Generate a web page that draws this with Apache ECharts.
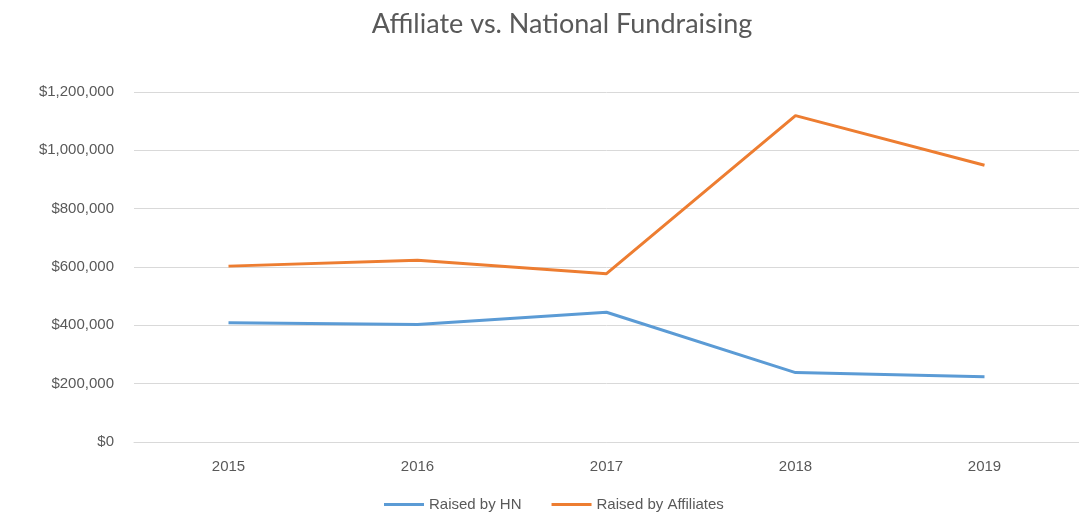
<!DOCTYPE html>
<html>
<head>
<meta charset="utf-8">
<script src="https://cdn.jsdelivr.net/npm/echarts@6/dist/echarts.min.js"></script>
<style>
  html, body { margin: 0; padding: 0; background: #fff; }
  #chart { width: 1079px; height: 514px; }
</style>
</head>
<body>
<div id="chart"></div>
<script>
// values
var years = ["2015", "2016", "2017", "2018", "2019"];
var raisedByHN = [409000, 403000, 445000, 238000, 224000];
var raisedByAffiliates = [603000, 623000, 577000, 1119000, 949000];
var seriesNames = ["Raised by HN", "Raised by Affiliates"];

var chart = echarts.init(document.getElementById("chart"));

function money(v) {
  return "$" + v.toString().replace(/\B(?=(\d{3})+(?!\d))/g, ",");
}

var option = {
  animation: false,
  title: {
    text: "Affiliate vs. National Fundraising",
    left: 557,
    top: 6,
    textAlign: "center",
    textStyle: {
      color: "#595959",
      fontFamily: "Lato",
      fontWeight: "normal",
      fontSize: 27
    }
  },
  legend: {
    top: 492,
    left: 379,
    itemWidth: 40,
    itemHeight: 3,
    itemGap: 30,
    icon: "rect",
    textStyle: {
      color: "#595959",
      fontFamily: "Liberation Sans",
      fontSize: 15
    },
    data: seriesNames
  },
  grid: {
    left: 134,
    right: 0,
    top: 92,
    bottom: 72,
    containLabel: false
  },
  xAxis: {
    type: "category",
    data: years,
    boundaryGap: true,
    axisLine: { show: true, lineStyle: { color: "#d9d9d9" } },
    axisTick: { show: false },
    axisLabel: {
      color: "#595959",
      fontFamily: "Liberation Sans",
      fontSize: 15,
      margin: 17
    }
  },
  yAxis: {
    type: "value",
    min: 0,
    max: 1200000,
    interval: 200000,
    axisLine: { show: false },
    axisTick: { show: false },
    splitLine: { lineStyle: { color: "#d9d9d9", width: 1 } },
    axisLabel: {
      color: "#595959",
      fontFamily: "Liberation Sans",
      fontSize: 15,
      margin: 20,
      formatter: money
    }
  },
  series: [
    {
      name: seriesNames[0],
      type: "line",
      data: raisedByHN,
      symbol: "none",
      color: "#5b9bd5",
      lineStyle: { width: 3, color: "#5b9bd5" }
    },
    {
      name: seriesNames[1],
      type: "line",
      data: raisedByAffiliates,
      symbol: "none",
      color: "#ed7d31",
      lineStyle: { width: 3, color: "#ed7d31" }
    }
  ]
};

chart.setOption(option);
</script>
</body>
</html>
